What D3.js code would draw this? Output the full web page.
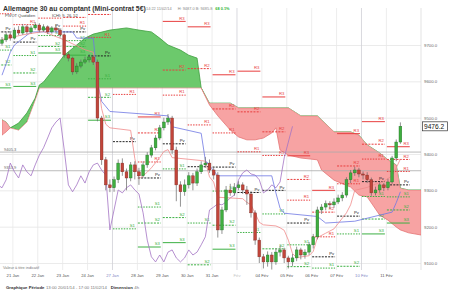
<!DOCTYPE html>
<html>
<head>
<meta charset="utf-8">
<script src="https://cdn.jsdelivr.net/npm/d3@7"></script>
<style>
  body { margin: 0; background: #fff; }
  svg { display: block; font-family: "Liberation Sans", Arial, sans-serif; }
</style>
</head>
<body>
<svg id="chart" width="450" height="293"></svg>
<script>
// 4h candles, 13:00 20/01/14 -> 11/02/14
const opens = [9705, 9714, 9728, 9719, 9741, 9733, 9750, 9736, 9747, 9755,
  9741, 9750, 9736, 9747, 9741, 9728, 9673, 9664, 9626, 9642,
  9653, 9659, 9667, 9653, 9499, 9384, 9315, 9307, 9329, 9375,
  9351, 9334, 9370, 9351, 9340, 9370, 9397, 9417, 9444, 9472,
  9488, 9499, 9411, 9315, 9296, 9315, 9340, 9320, 9351, 9370,
  9375, 9356, 9342, 9191, 9246, 9301, 9293, 9307, 9315, 9301,
  9290, 9238, 9163, 9117, 9103, 9122, 9103, 9130, 9136, 9114,
  9103, 9114, 9136, 9122, 9130, 9150, 9172, 9246, 9254, 9263,
  9260, 9268, 9279, 9287, 9329, 9348, 9356, 9345, 9342, 9329,
  9293, 9301, 9315, 9307, 9323, 9389, 9433];
const highs = [9722, 9735, 9738, 9748, 9752, 9758, 9756, 9753, 9763, 9760,
  9757, 9754, 9752, 9756, 9745, 9732, 9680, 9668, 9650, 9660,
  9668, 9675, 9672, 9660, 9505, 9392, 9330, 9338, 9385, 9388,
  9360, 9378, 9380, 9362, 9380, 9405, 9425, 9452, 9480, 9500,
  9510, 9505, 9420, 9325, 9330, 9350, 9348, 9360, 9380, 9392,
  9385, 9365, 9350, 9255, 9312, 9318, 9320, 9325, 9322, 9312,
  9298, 9245, 9170, 9125, 9132, 9130, 9140, 9148, 9142, 9120,
  9125, 9145, 9142, 9138, 9158, 9180, 9255, 9262, 9272, 9270,
  9278, 9288, 9295, 9336, 9356, 9365, 9362, 9352, 9350, 9335,
  9310, 9322, 9320, 9332, 9395, 9440, 9487];
const lows = [9698, 9708, 9712, 9715, 9727, 9728, 9730, 9731, 9742, 9735,
  9736, 9730, 9731, 9735, 9720, 9665, 9655, 9618, 9620, 9636,
  9648, 9652, 9645, 9490, 9370, 9300, 9295, 9296, 9320, 9340,
  9300, 9325, 9330, 9315, 9335, 9362, 9390, 9410, 9438, 9465,
  9480, 9400, 9270, 9255, 9285, 9305, 9300, 9312, 9345, 9362,
  9348, 9330, 9170, 9180, 9240, 9285, 9285, 9300, 9290, 9260,
  9225, 9150, 9100, 9085, 9090, 9082, 9095, 9118, 9100, 9085,
  9092, 9105, 9110, 9112, 9122, 9140, 9165, 9235, 9245, 9250,
  9252, 9262, 9270, 9280, 9320, 9340, 9336, 9330, 9320, 9285,
  9286, 9294, 9298, 9300, 9318, 9380, 9428];
const closes = [9714, 9728, 9719, 9741, 9733, 9750, 9736, 9747, 9755, 9741,
  9750, 9736, 9747, 9741, 9728, 9673, 9664, 9626, 9642, 9653,
  9659, 9667, 9653, 9499, 9384, 9315, 9307, 9329, 9375, 9351,
  9334, 9370, 9351, 9340, 9370, 9397, 9417, 9444, 9472, 9488,
  9499, 9411, 9315, 9296, 9315, 9340, 9320, 9351, 9370, 9375,
  9356, 9342, 9191, 9246, 9301, 9293, 9307, 9315, 9301, 9290,
  9238, 9163, 9117, 9103, 9122, 9103, 9130, 9136, 9114, 9103,
  9114, 9136, 9122, 9130, 9150, 9172, 9246, 9254, 9263, 9260,
  9268, 9279, 9287, 9329, 9348, 9356, 9345, 9342, 9329, 9293,
  9301, 9315, 9307, 9323, 9389, 9433, 9476.2];
const lastPrice = 9476.2;

// ichimoku 9, 26, 52
const tenkanPeriods = [0, 5, 10, 15, 20, 22, 23, 24, 25, 26, 31, 32, 33, 35, 36, 38, 39, 40, 41, 48,
  49, 50, 51, 52, 58, 59, 60, 61, 62, 63, 66, 67, 68, 69, 70, 71, 74, 75, 76, 78,
  79, 80, 83, 84, 85, 88, 90, 92, 94, 95, 96];
const tenkanValues = [9715, 9728, 9737, 9714, 9687, 9680, 9611, 9525, 9482, 9472, 9465, 9388, 9331, 9350, 9362, 9390, 9407, 9412, 9390, 9382,
  9380, 9337, 9323, 9281, 9277, 9267, 9260, 9237, 9212, 9205, 9202, 9197, 9190, 9163, 9126, 9115, 9120, 9132, 9170, 9182,
  9188, 9194, 9238, 9260, 9300, 9308, 9317, 9325, 9340, 9362, 9386];
const kijunPeriods = [0, 2, 3, 7, 17, 18, 22, 23, 24, 26, 40, 41, 48, 49, 52, 65, 66, 67, 68, 76, 78, 85, 94, 95, 96];
const kijunValues = [9617, 9680, 9700, 9736, 9736, 9719, 9719, 9600, 9545, 9517, 9505, 9475, 9457, 9382, 9340, 9340, 9293, 9251, 9237, 9228, 9210, 9215, 9240, 9266, 9296];
const chikouShift = 26;
const cloudPeriods = [0, 1, 2, 4, 6, 8, 9, 10, 13, 15, 18, 20, 22, 26, 30, 33, 36, 38, 40, 43,
  45, 47, 48, 50, 52, 55, 57, 59, 61, 63, 65, 66, 67, 69, 72, 76, 77, 80, 84, 86,
  88, 91, 93, 95, 96, 98, 101];
const senkouA = [9452, 9461, 9472, 9485, 9513, 9554, 9590, 9598, 9642, 9672, 9700, 9719, 9730, 9741, 9747, 9741, 9736, 9719, 9700, 9686,
  9672, 9664, 9582, 9535, 9505, 9466, 9447, 9439, 9439, 9444, 9458, 9472, 9411, 9397, 9389, 9384, 9356, 9328, 9309, 9287,
  9282, 9232, 9218, 9199, 9191, 9183, 9177];
const senkouB = [9494, 9488, 9472, 9466, 9488, 9549, 9582, 9582, 9582, 9582, 9582, 9582, 9582, 9582, 9582, 9582, 9582, 9582, 9582, 9582,
  9582, 9582, 9582, 9540, 9540, 9540, 9527, 9527, 9527, 9527, 9527, 9527, 9527, 9527, 9505, 9505, 9494, 9461, 9461, 9452,
  9425, 9403, 9384, 9370, 9306, 9301, 9301];

// daily pivots
const dayNames = ["20 Jan", "21 Jan", "22 Jan", "23 Jan", "24 Jan", "27 Jan", "28 Jan", "29 Jan", "30 Jan", "31 Jan",
  "Fév", "04 Fév", "05 Fév", "06 Fév", "07 Fév", "10 Fév", "11 Fév"];
const dayKind = ["week", "day", "day", "day", "day", "week", "day", "day", "day", "day",
  "month", "day", "day", "day", "day", "week", "day"];
const dayFirstCandle = [-3, 3, 9, 15, 21, 27, 33, 39, 45, 51, 57, 63, 69, 75, 81, 87, 93];
const pivotR3 = [9880, 9841, 9822, 9792, 9835, 9934, 9502, 9765, 9750, 9618, 9628, 9557, 9395, 9300, 9456, 9489, 9420];
const pivotR2 = [9827, 9793, 9792, 9776, 9784, 9804, 9458, 9631, 9635, 9524, 9516, 9461, 9330, 9240, 9367, 9427, 9385];
const pivotR1 = [9786, 9756, 9774, 9752, 9721, 9564, 9378, 9562, 9480, 9458, 9406, 9396, 9273, 9172, 9318, 9386, 9352];
const pivotPv = [9736, 9708, 9744, 9736, 9670, 9434, 9334, 9428, 9365, 9364, 9294, 9300, 9210, 9117, 9229, 9324, 9315];
const pivotS1 = [9686, 9671, 9726, 9712, 9607, 9194, 9254, 9359, 9210, 9298, 9184, 9235, 9150, 9086, 9180, 9283, 9282];
const pivotS2 = [9645, 9623, 9696, 9696, 9556, 9064, 9210, 9225, 9095, 9204, 9072, 9139, 9090, 9040, 9091, 9221, 9246];
const pivotS3 = [9582, 9586, 9678, 9672, 9493, 8824, 9144, 9156, 8940, 9138, 8962, 9074, 9030, 9000, 9042, 9180, 9210];

const priceTicks = [9100, 9200, 9300, 9400, 9500, 9600, 9700];
const refLevels = [9405.3, 9353.9];

// ---------------------------------------------------------------
const plot = { left: 0, right: 421, top: 8, bottom: 270 };
const x = d3.scaleLinear().domain([0, 96]).range([2, 400.4]);
const y = d3.scaleLinear().domain([9100, 9700]).range([263, 45]);

const svg = d3.select("#chart");
const defs = svg.append("defs");
defs.append("clipPath").attr("id", "plotClip").append("rect")
  .attr("x", plot.left).attr("y", plot.top)
  .attr("width", plot.right - plot.left).attr("height", plot.bottom - plot.top);

// axes + grid
const yAxis = d3.axisRight(y).tickValues(priceTicks).tickFormat(d3.format(".1f"))
  .tickSize(-(plot.right - plot.left)).tickPadding(3);
const yAxisG = svg.append("g").attr("transform", `translate(${plot.right},0)`).call(yAxis);
yAxisG.select(".domain").remove();
yAxisG.selectAll("line").attr("stroke", "#e6e6e6").attr("stroke-width", 0.8);
yAxisG.selectAll("text").attr("fill", "#666").attr("font-size", 4.3).attr("font-family", "Liberation Sans, Arial");

const xAxis = d3.axisBottom(x).tickValues(dayFirstCandle.map((d) => d - 0.5))
  .tickFormat((d, i) => (x(d) > 5 ? dayNames[i] : ""))
  .tickSize(-(plot.bottom - plot.top)).tickPadding(4);
const xAxisG = svg.append("g").attr("transform", `translate(0,${plot.bottom})`).call(xAxis);
xAxisG.select(".domain").remove();
xAxisG.selectAll("line")
  .attr("stroke", (d, i) => (dayKind[i] === "day" ? "#e8e8e8" : "#cfcfd6"))
  .attr("stroke-width", 0.8);
xAxisG.selectAll("text")
  .attr("font-size", 4.2).attr("font-family", "Liberation Sans, Arial")
  .attr("fill", (d, i) => (dayKind[i] === "week" ? "#7f86c4" : dayKind[i] === "month" ? "#c4c4c4" : "#555"));
svg.append("line").attr("x1", plot.right).attr("x2", plot.right).attr("y1", plot.top).attr("y2", plot.bottom)
  .attr("stroke", "#dcdcdc").attr("stroke-width", 0.8);

const g = svg.append("g").attr("clip-path", "url(#plotClip)");

// cloud
const cloud = cloudPeriods.map((p, i) => ({ p, a: senkouA[i], b: senkouB[i] }));
defs.append("clipPath").attr("id", "aboveB").append("path")
  .attr("d", d3.area().x((d) => x(d.p)).y0(0).y1((d) => y(d.b))(cloud));
defs.append("clipPath").attr("id", "belowB").append("path")
  .attr("d", d3.area().x((d) => x(d.p)).y0((d) => y(d.b)).y1(400)(cloud));
const kumo = d3.area().x((d) => x(d.p)).y0((d) => y(d.a)).y1((d) => y(d.b));
g.append("path").attr("clip-path", "url(#aboveB)").attr("d", kumo(cloud))
  .attr("fill", "#6cc96c").attr("stroke", "#3f9e3f").attr("stroke-width", 0.8);
g.append("path").attr("clip-path", "url(#belowB)").attr("d", kumo(cloud))
  .attr("fill", "#f7a3a3").attr("stroke", "#e57373").attr("stroke-width", 0.8);

// reference levels
g.selectAll(".ref").data(refLevels).enter().append("line")
  .attr("x1", 0).attr("x2", plot.right).attr("y1", (d) => y(d)).attr("y2", (d) => y(d))
  .attr("stroke", "#a9a9a9").attr("stroke-width", 0.8);
g.selectAll(".refLabel").data(refLevels).enter().append("text")
  .attr("x", 4).attr("y", (d) => y(d) - 1.5).text((d) => d.toFixed(1))
  .attr("font-size", 4).attr("fill", "#666");

// pivots
const pivotSets = [
  { name: "R3", values: pivotR3, color: "#e83e3e", dash: null },
  { name: "R2", values: pivotR2, color: "#e83e3e", dash: "2,1.2" },
  { name: "R1", values: pivotR1, color: "#e83e3e", dash: "1.5,1.2" },
  { name: "Pv", values: pivotPv, color: "#222", dash: "2,1.2" },
  { name: "S1", values: pivotS1, color: "#3cb043", dash: "1.5,1.2" },
  { name: "S2", values: pivotS2, color: "#3cb043", dash: "2,1.2" },
  { name: "S3", values: pivotS3, color: "#3cb043", dash: null },
];
const pivotRows = [];
pivotSets.forEach((s) => s.values.forEach((v, d) => pivotRows.push({ ...s, v, d })));
const shownRows = pivotRows.filter((r) => y(r.v) >= 13 && y(r.v) <= plot.bottom - 1);
const pivG = g.append("g");
pivG.selectAll("line").data(shownRows).enter().append("line")
  .attr("x1", (r) => x(dayFirstCandle[r.d] - 0.5) + 1)
  .attr("x2", (r) => x(dayFirstCandle[r.d] + 5.5) - 1)
  .attr("y1", (r) => y(r.v)).attr("y2", (r) => y(r.v))
  .attr("stroke", (r) => r.color).attr("stroke-width", 1)
  .attr("stroke-dasharray", (r) => r.dash);
pivG.selectAll("text").data(shownRows.filter((r) => y(r.v) >= 20)).enter().append("text")
  .attr("x", (r) => x(dayFirstCandle[r.d] + 5.5) - 2)
  .attr("y", (r) => y(r.v) - 1.8)
  .attr("text-anchor", "end").attr("font-size", 4.2)
  .attr("fill", (r) => r.color).text((r) => r.name);

// ichimoku lines
const tenkan = tenkanPeriods.map((p, i) => [p, tenkanValues[i]]);
const kijun = kijunPeriods.map((p, i) => [p, kijunValues[i]]);
const chikou = closes.map((c, i) => [i - chikouShift, c]);
const line = d3.line().x((d) => x(d[0])).y((d) => y(d[1]));
g.append("path").attr("d", line(chikou)).attr("fill", "none").attr("stroke", "#a374c4").attr("stroke-width", 0.8);
g.append("path").attr("d", line(kijun)).attr("fill", "none").attr("stroke", "#6f77e3").attr("stroke-width", 0.8);
g.append("path").attr("d", line(tenkan)).attr("fill", "none").attr("stroke", "#f08a8a").attr("stroke-width", 0.8);

// candles
const candles = closes.map((c, i) => ({ i, o: opens[i], h: highs[i], l: lows[i], c }));
const cg = g.append("g");
cg.selectAll("line").data(candles).enter().append("line")
  .attr("x1", (d) => x(d.i)).attr("x2", (d) => x(d.i))
  .attr("y1", (d) => y(d.h)).attr("y2", (d) => y(d.l))
  .attr("stroke", "#666").attr("stroke-width", 0.7);
cg.selectAll("rect").data(candles).enter().append("rect")
  .attr("x", (d) => x(d.i) - 1.4).attr("width", 2.8)
  .attr("y", (d) => y(Math.max(d.o, d.c)))
  .attr("height", (d) => Math.max(0.8, Math.abs(y(d.o) - y(d.c))))
  .attr("fill", (d) => (d.c >= d.o ? "#3fae3f" : "#c2453a"))
  .attr("stroke", (d) => (d.c >= d.o ? "#23702a" : "#7d2b24"))
  .attr("stroke-width", 0.4);

// last price box
svg.append("rect").attr("x", 422.5).attr("y", y(lastPrice) - 4.5).attr("width", 25).attr("height", 9)
  .attr("fill", "#fff").attr("stroke", "#333").attr("stroke-width", 0.7);
svg.append("text").attr("x", 424).attr("y", y(lastPrice) + 2.4).text(lastPrice.toFixed(1))
  .attr("font-size", 6.6).attr("fill", "#111");

// header
svg.append("text").attr("x", 3).attr("y", 10.5).text("Allemagne 30 au comptant (Mini-contrat 5€)")
  .attr("font-size", 6.9).attr("font-weight", "bold").attr("fill", "#333");
const hdr = svg.append("text").attr("x", 146).attr("y", 10).attr("font-size", 3.9).attr("fill", "#8a8a8a");
hdr.append("tspan").text("14:22 11/02/14");
hdr.append("tspan").attr("dx", 6).text("H: 9487.0  B: 9485.8");
hdr.append("tspan").attr("dx", 3).attr("fill", "#2fb52f").attr("font-weight", "bold").text("68 0.1%");
svg.append("text").attr("x", 5).attr("y", 17).text("PIVOT Quotidien").attr("font-size", 4).attr("fill", "#444");
svg.append("text").attr("x", 52).attr("y", 17).text("ICHI: 9, 26, 52").attr("font-size", 4).attr("fill", "#444");

// footer
svg.append("text").attr("x", 3).attr("y", 268.5).text("Valeur à titre indicatif").attr("font-size", 3.9).attr("fill", "#777");
const foot = svg.append("text").attr("x", 6).attr("y", 288.5).attr("font-size", 4.3).attr("fill", "#777");
foot.append("tspan").attr("font-weight", "bold").attr("fill", "#333").text("Graphique Période");
foot.append("tspan").attr("dx", 1.5).text("13:00 20/01/14 - 17:00 11/02/14");
foot.append("tspan").attr("dx", 4).attr("font-weight", "bold").attr("fill", "#333").text("Dimension");
foot.append("tspan").attr("dx", 1.5).text("4h");
</script>
</body>
</html>
